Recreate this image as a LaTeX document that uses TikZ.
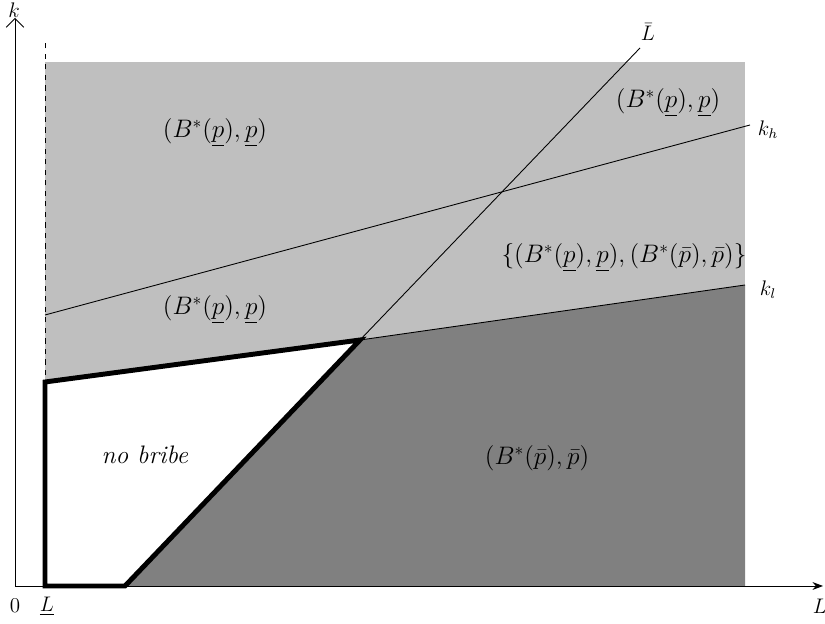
\documentclass[tikz,border=0pt]{standalone}
\usepackage{amsmath,amssymb}
\usepackage{tikz}
\usetikzlibrary{arrows.meta,positioning}

\begin{document}
\begin{tikzpicture}[
  x=0.02cm, y=0.02cm,
  every node/.style={font=\large, align=center},
  region/.style={font=\Large},
  thinline/.style={draw, line width=0.5pt},
  border/.style={draw, line width=2.8pt, line join=miter},
  lightregion/.style={fill=black!25},
  darkregion/.style={fill=black!50}
]
\useasboundingbox (0,0) rectangle (825,624);
\coordinate (O) at (15,38);
\coordinate (Lo) at (45,38);
\coordinate (Bk) at (125,38);
\coordinate (X) at (360,284);
\coordinate (Kl0) at (45,242);
\coordinate (Kl1) at (745,339);
\coordinate (Kh0) at (45,309);
\coordinate (Kh1) at (750,499);
\coordinate (Lb1) at (640,576);
\coordinate (Xend) at (823,38);
\coordinate (Yend) at (15,606);
\coordinate (Dtop) at (45,586);

\fill[lightregion] (45,38) rectangle (745,562);
\fill[darkregion] (Bk) -- (X) -- (Kl1) -- (745,38) -- cycle;
\fill[white] (Lo) -- (Bk) -- (X) -- (Kl0) -- cycle;

\draw[thinline, dashed] (Lo) -- (Dtop);
\draw[thinline] (X) -- (Lb1);
\draw[thinline] (Kh0) -- (Kh1);
\draw[thinline] (X) -- (Kl1);
\draw[border] (Kl0) -- (Lo) -- (Bk) -- (X) -- cycle;

\draw[thinline, -{Stealth[length=6pt]}] (O) -- (Xend);
\draw[thinline, -{Straight Barb[length=5pt]}] (O) -- (Yend);

\node (k) at (14,614) {$k$};
\node (zero) at (15,18) {$0$};
\node (Lmin) at (47,18) {$\underline{L}$};
\node (Lax) at (820,18) {$L$};
\node (Lmax) at (648,592) {$\bar{L}$};
\node (kh) at (768,494) {$k_h$};
\node (kl) at (768,334) {$k_l$};

\node[region] (pool1) at (215,491) {$(B^{*}(\underline{p}),\underline{p})$};
\node[region] (pool2) at (668,521) {$(B^{*}(\underline{p}),\underline{p})$};
\node[region] (pool3) at (215,314) {$(B^{*}(\underline{p}),\underline{p})$};
\node[region] (both) at (624,366) {$\{(B^{*}(\underline{p}),\underline{p}),(B^{*}(\bar{p}),\bar{p})\}$};
\node[region] (high) at (537,166) {$(B^{*}(\bar{p}),\bar{p})$};
\node[region] (none) at (145,169) {\textit{no bribe}};
\end{tikzpicture}
\end{document}
